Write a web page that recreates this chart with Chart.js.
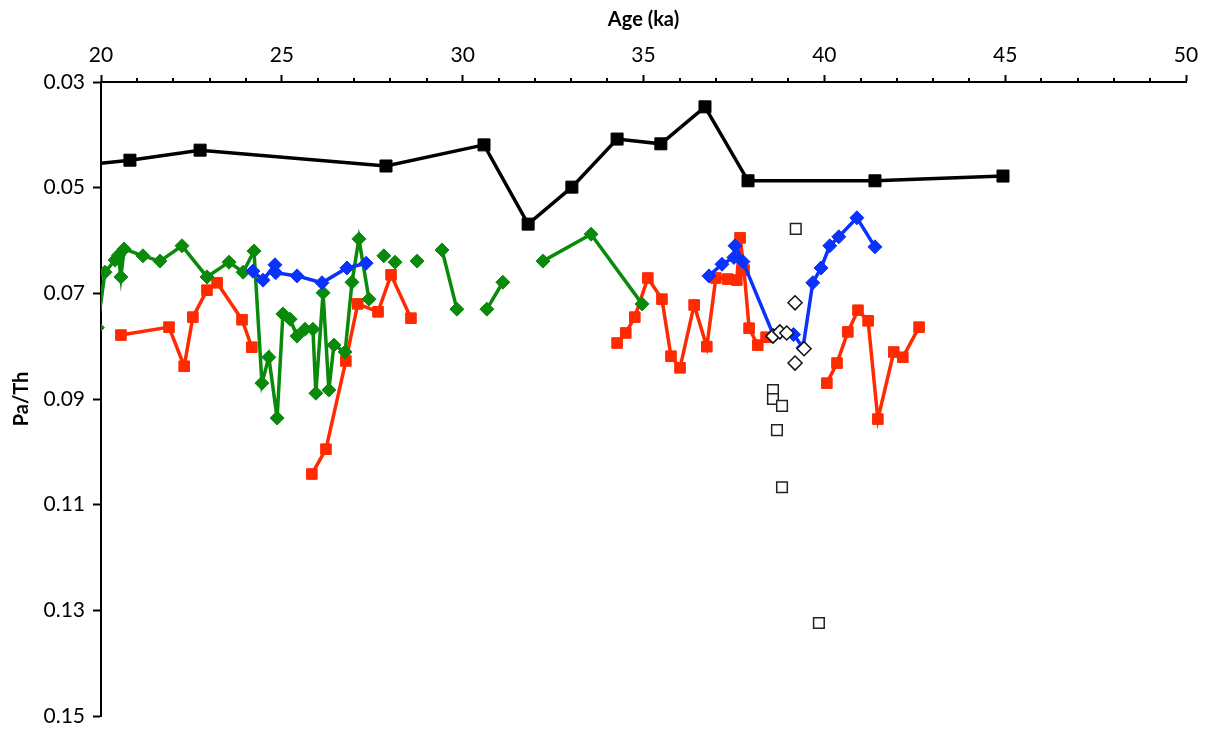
<!DOCTYPE html>
<html>
<head>
<meta charset="utf-8">
<script src="https://cdn.jsdelivr.net/npm/chart.js@4"></script>
<style>
  html, body { margin: 0; padding: 0; background: #fff; }
  #wrap { width: 1209px; height: 731px; }
</style>
</head>
<body>
<div id="wrap"><canvas id="paChart"></canvas></div>
<script>
// Age (ka) / Pa/Th values; null = break in the line
const blackX = [19.0, 20.80, 22.74, 27.88, 30.59, 31.81, 33.02, 34.27, 35.48, 36.70, 37.89, 41.40, 44.94];
const blackY = [0.0461, 0.0448, 0.0429, 0.0459, 0.0419, 0.0569, 0.0499, 0.0408, 0.0417, 0.0347, 0.0487, 0.0487, 0.0478];

const greenX = [19.9, 20.11, 20.39, 20.48, 20.55, 20.64, 21.16, 21.63, 22.24, 22.93, 23.54, 23.93, 24.23, 24.45, 24.64, 24.87,
  25.03, 25.23, 25.42, 25.64, 25.86, 25.94, 26.14, 26.30, 26.44, 26.75, 26.94, 27.13, 27.41, null, 27.82, null, 28.13, null,
  28.74, null, 29.43, 29.84, null, 30.67, 31.11, null, 32.22, 33.55, 34.96];
const greenY = [0.0765, 0.0660, 0.0637, 0.0628, 0.0669, 0.0616, 0.0629, 0.0639, 0.0610, 0.0669, 0.0641, 0.0660, 0.0620, 0.0870, 0.0821, 0.0936,
  0.0739, 0.0749, 0.0781, 0.0768, 0.0768, 0.0889, 0.0699, 0.0883, 0.0798, 0.0811, 0.0679, 0.0597, 0.0711, null, 0.0629, null, 0.0641, null,
  0.0639, null, 0.0618, 0.0730, null, 0.0730, 0.0679, null, 0.0639, 0.0588, 0.0720];

const blueX = [24.20, 24.48, 24.81, 24.83, 25.42, 26.11, 26.80, 27.33, null, 36.81, 37.17, 37.50, 37.53, 37.75, 38.60, 39.15,
  39.41, 39.68, 39.91, 40.15, 40.40, 40.90, 41.40];
const blueY = [0.0658, 0.0675, 0.0646, 0.0661, 0.0667, 0.0680, 0.0652, 0.0643, null, 0.0667, 0.0645, 0.0632, 0.0610, 0.0640, 0.0780, 0.0778,
  0.0803, 0.0680, 0.0652, 0.0610, 0.0593, 0.0557, 0.0612];

const redX = [20.55, 21.88, 22.30, 22.54, 22.93, 23.21, 23.90, 24.17, null, 25.83, 26.22, 26.77, 27.10, 27.66, 28.02, 28.57, null,
  34.27, 34.51, 34.76, 35.12, 35.51, 35.76, 36.01, 36.40, 36.75, 37.00, 37.33, 37.58, 37.67, 37.78, 37.92, 38.16, 38.39, null,
  40.07, 40.35, 40.65, 40.93, 41.21, 41.48, 41.92, 42.17, 42.62];
const redY = [0.0779, 0.0764, 0.0838, 0.0745, 0.0694, 0.0680, 0.0750, 0.0802, null, 0.1042, 0.0995, 0.0828, 0.0720, 0.0735, 0.0665, 0.0747, null,
  0.0794, 0.0775, 0.0745, 0.0671, 0.0711, 0.0819, 0.0841, 0.0722, 0.0801, 0.0671, 0.0673, 0.0675, 0.0595, 0.0656, 0.0766, 0.0798, 0.0783, null,
  0.0870, 0.0832, 0.0773, 0.0732, 0.0752, 0.0938, 0.0811, 0.0821, 0.0764];

const openDiamondX = [39.19, 38.58, 38.77, 38.96, 39.44, 39.19];
const openDiamondY = [0.0718, 0.0781, 0.0773, 0.0775, 0.0805, 0.0832];

const openSquareX = [39.21, 38.58, 38.58, 38.83, 38.69, 38.83, 39.85];
const openSquareY = [0.0578, 0.0883, 0.0900, 0.0913, 0.0959, 0.1067, 0.1324];

const xTicks = [20, 25, 30, 35, 40, 45, 50];
const xMinorTicks = [21, 22, 23, 24, 26, 27, 28, 29, 31, 32, 33, 34, 36, 37, 38, 39, 41, 42, 43, 44, 46, 47, 48, 49];
const yTicks = [0.03, 0.05, 0.07, 0.09, 0.11, 0.13, 0.15];

function pts(xs, ys) {
  return xs.map((x, i) => ({ x: x, y: ys[i] }));
}

const FONT = "Lato, 'Open Sans', sans-serif";

// short minor ticks above the top axis
const minorTicks = {
  id: "minorTicks",
  afterDraw(chart) {
    const ctx = chart.ctx;
    const xs = chart.scales.x;
    const top = chart.chartArea.top;
    ctx.save();
    ctx.strokeStyle = "#000";
    ctx.lineWidth = 2;
    xMinorTicks.forEach(v => {
      const px = Math.round(xs.getPixelForValue(v));
      ctx.beginPath();
      ctx.moveTo(px, top);
      ctx.lineTo(px, top - 4);
      ctx.stroke();
    });
    ctx.restore();
  }
};

new Chart(document.getElementById("paChart"), {
  type: "scatter",
  data: {
    datasets: [
      { label: "open diamonds", data: pts(openDiamondX, openDiamondY), showLine: false,
        pointStyle: "rectRot", pointRadius: 7, borderColor: "#111", backgroundColor: "#fff", borderWidth: 1.5, order: 0 },
      { label: "open squares", data: pts(openSquareX, openSquareY), showLine: false,
        pointStyle: "rect", pointRadius: 7.5, borderColor: "#222", backgroundColor: "#fff", borderWidth: 1.5, order: 0 },
      { label: "black", data: pts(blackX, blackY), showLine: true, borderColor: "#000", backgroundColor: "#000",
        borderWidth: 3.5, pointStyle: "rect", pointRadius: 8.5, pointBorderWidth: 1, order: 1 },
      { label: "blue", data: pts(blueX, blueY), showLine: true, borderColor: "#0a32ff", backgroundColor: "#0a32ff",
        borderWidth: 3.5, pointStyle: "rectRot", pointRadius: 7, pointBorderWidth: 1, order: 2 },
      { label: "green", data: pts(greenX, greenY), showLine: true, borderColor: "#0a8a0a", backgroundColor: "#0a8a0a",
        borderWidth: 3.5, pointStyle: "rectRot", pointRadius: 7, pointBorderWidth: 1, order: 3 },
      { label: "red", data: pts(redX, redY), showLine: true, borderColor: "#ff2a00", backgroundColor: "#ff2a00",
        borderWidth: 3.5, pointStyle: "rect", pointRadius: 7.5, pointBorderWidth: 1, order: 4 }
    ]
  },
  options: {
    responsive: true,
    maintainAspectRatio: false,
    animation: false,
    spanGaps: false,
    layout: { padding: { left: 0, top: 0, right: 23, bottom: 15 } },
    plugins: {
      legend: { display: false },
      tooltip: { enabled: false }
    },
    scales: {
      x: {
        type: "linear",
        position: "top",
        min: 20,
        max: 50,
        afterBuildTicks: s => { s.ticks = xTicks.map(v => ({ value: v })); },
        afterFit: s => { s.height = 82; s.paddingLeft = 0; s.paddingRight = 0; },
        ticks: { color: "#000", font: { family: FONT, size: 21 }, padding: 7, maxRotation: 0 },
        grid: { drawOnChartArea: false, tickLength: 7, tickWidth: 2, tickColor: "#000" },
        border: { color: "#000", width: 2 },
        title: { display: true, text: "Age (ka)", color: "#000", font: { family: FONT, size: 20, weight: "bold" }, padding: { top: 8, bottom: 0 } }
      },
      y: {
        type: "linear",
        reverse: true,
        min: 0.03,
        max: 0.15,
        afterBuildTicks: s => { s.ticks = yTicks.map(v => ({ value: v })); },
        afterFit: s => { s.width = 101; s.paddingTop = 0; s.paddingBottom = 0; },
        ticks: { color: "#000", font: { family: FONT, size: 21 }, padding: 8, callback: v => Number(v).toFixed(2) },
        grid: { drawOnChartArea: false, tickLength: 8, tickWidth: 2, tickColor: "#000" },
        border: { color: "#000", width: 2 },
        title: { display: true, text: "Pa/Th", color: "#000", font: { family: FONT, size: 20, weight: "bold" }, padding: { top: 10, bottom: 0 } }
      }
    }
  },
  plugins: [minorTicks]
});
</script>
</body>
</html>
